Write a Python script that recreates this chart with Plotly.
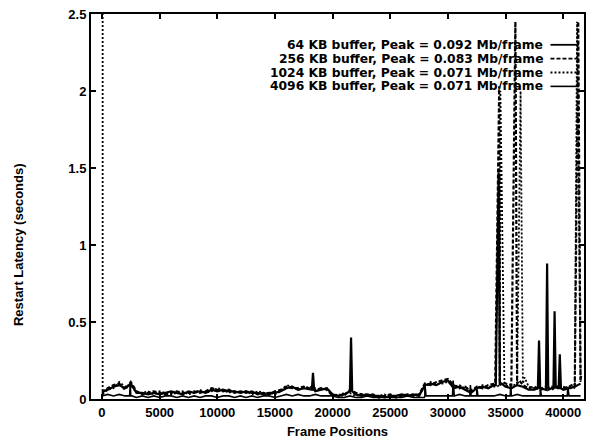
import plotly.graph_objects as go

# Frame positions (common grid)
frames = list(range(0, 42000, 500))

s64_base = [0.05, 0.06, 0.08, 0.09, 0.07, 0.10, 0.04, 0.04, 0.03, 0.04, 0.03, 0.04,
            0.05, 0.04, 0.03, 0.05, 0.04, 0.05, 0.04, 0.06, 0.05, 0.06, 0.05, 0.05,
            0.04, 0.05, 0.04, 0.04, 0.03, 0.04, 0.04, 0.05, 0.07, 0.08, 0.06, 0.07,
            0.06, 0.05, 0.06, 0.07, 0.03, 0.02, 0.03, 0.05, 0.03, 0.02, 0.03, 0.02,
            0.02, 0.01, 0.02, 0.02, 0.03, 0.02, 0.03, 0.02, 0.09, 0.10, 0.09, 0.11,
            0.12, 0.07, 0.08, 0.06, 0.04, 0.07, 0.08, 0.07, 0.09, 0.10, 0.08, 0.07,
            0.09, 0.08, 0.06, 0.06, 0.07, 0.06, 0.07, 0.08, 0.06, 0.07, 0.08, 0.10]
s256_base = [0.04, 0.07, 0.09, 0.10, 0.06, 0.11, 0.05, 0.03, 0.04, 0.05, 0.04, 0.03,
             0.04, 0.05, 0.04, 0.04, 0.05, 0.04, 0.05, 0.07, 0.06, 0.05, 0.06, 0.04,
             0.05, 0.04, 0.05, 0.03, 0.04, 0.03, 0.05, 0.06, 0.08, 0.07, 0.07, 0.08,
             0.07, 0.06, 0.07, 0.06, 0.02, 0.03, 0.02, 0.06, 0.04, 0.03, 0.02, 0.03,
             0.01, 0.02, 0.03, 0.01, 0.02, 0.03, 0.02, 0.03, 0.10, 0.09, 0.11, 0.12,
             0.13, 0.09, 0.07, 0.08, 0.05, 0.08, 0.07, 0.09, 0.10, 0.09, 0.10, 0.09,
             0.10, 0.09, 0.07, 0.08, 0.06, 0.07, 0.08, 0.07, 0.07, 0.08, 0.09, 0.12]
s1024_base = [0.03, 0.06, 0.07, 0.11, 0.08, 0.09, 0.04, 0.04, 0.05, 0.03, 0.05, 0.04,
              0.03, 0.04, 0.05, 0.03, 0.04, 0.06, 0.04, 0.05, 0.07, 0.06, 0.04, 0.05,
              0.04, 0.05, 0.03, 0.05, 0.04, 0.04, 0.03, 0.05, 0.09, 0.08, 0.06, 0.07,
              0.08, 0.07, 0.06, 0.07, 0.03, 0.02, 0.04, 0.04, 0.02, 0.03, 0.03, 0.02,
              0.02, 0.03, 0.01, 0.02, 0.02, 0.02, 0.03, 0.03, 0.08, 0.11, 0.10, 0.10,
              0.11, 0.08, 0.09, 0.07, 0.06, 0.07, 0.09, 0.08, 0.08, 0.09, 0.09, 0.08,
              0.08, 0.10, 0.08, 0.07, 0.07, 0.08, 0.06, 0.08, 0.08, 0.06, 0.07, 0.11]
s4096_base = [0.02, 0.03, 0.02, 0.03, 0.02, 0.02, 0.01, 0.02, 0.01, 0.02, 0.01, 0.02,
              0.02, 0.01, 0.02, 0.01, 0.02, 0.01, 0.02, 0.02, 0.01, 0.02, 0.02, 0.01,
              0.02, 0.01, 0.02, 0.01, 0.02, 0.02, 0.01, 0.02, 0.03, 0.02, 0.03, 0.02,
              0.02, 0.03, 0.02, 0.02, 0.02, 0.01, 0.01, 0.02, 0.01, 0.01, 0.02, 0.01,
              0.01, 0.01, 0.01, 0.01, 0.01, 0.02, 0.01, 0.01, 0.02, 0.02, 0.02, 0.02,
              0.02, 0.02, 0.03, 0.02, 0.02, 0.02, 0.02, 0.02, 0.02, 0.03, 0.02, 0.02,
              0.03, 0.02, 0.02, 0.02, 0.02, 0.02, 0.02, 0.02, 0.02, 0.02, 0.02, 0.02]

# Extra (spike) samples per series (None = break in the line)
s64_sx = [18200, 18300, 18400, 21500, 21600, 21700, 34150, 34400, 34650,
          37800, 37900, 38000, 38500, 38600, 38700, 39150, 39250, 39350, 39600, 39700, 39800]
s64_sy = [0.06, 0.17, 0.06, 0.05, 0.40, 0.05, 0.09, 1.47, 0.10,
          0.07, 0.38, 0.07, 0.06, 0.88, 0.06, 0.07, 0.57, 0.07, 0.07, 0.29, 0.07]
s256_sx = [34100, 34450, 34800, 35500, 35850, 36200, 40950, 41300, 41550]
s256_sy = [0.10, 2.03, 0.11, 0.10, 2.45, 0.12, 0.10, 2.45, 0.15]
s1024_sx = [60, 60, 60, 60, 34200, 34550, 34900, 35950, 36300, 36650, 40850, 41200, 41500]
s1024_sy = [0.03, 3.00, None, 0.03, 0.08, 2.00, 0.10, 0.10, 2.00, 0.14, 0.08, 2.45, 0.20]
s4096_sx = [2400, 2450, 2600, 27950, 28000, 28100, 30400, 30450, 30550, 31900, 31950, 32050,
            32450, 32500, 32600, 35400, 35450, 35550, 37950, 38000, 38100, 40350, 40400, 40500]
s4096_sy = [0.02, 0.10, 0.02, 0.01, 0.10, 0.02, 0.02, 0.12, 0.02, 0.02, 0.09, 0.02,
            0.02, 0.08, 0.02, 0.02, 0.10, 0.02, 0.02, 0.08, 0.02, 0.02, 0.08, 0.02]

x_ticks = [0, 5000, 10000, 15000, 20000, 25000, 30000, 35000, 40000]
x_ticktext = ["0", "5000", "10000", "15000", "20000", "25000", "30000", "35000", "40000"]
y_ticks = [0, 0.5, 1, 1.5, 2, 2.5]
y_ticktext = ["0", "0.5", "1", "1.5", "2", "2.5"]

labels = ["64 KB buffer, Peak = 0.092 Mb/frame",
          "256 KB buffer, Peak = 0.083 Mb/frame",
          "1024 KB buffer, Peak = 0.071 Mb/frame",
          "4096 KB buffer, Peak = 0.071 Mb/frame"]


def merge(bx, by, sx, sy):
    # stable sort on x only, so repeated x values keep their listed order
    pts = sorted(list(zip(bx, by)) + list(zip(sx, sy)), key=lambda p: p[0])
    return [p[0] for p in pts], [p[1] for p in pts]


series = [
    (s64_base, s64_sx, s64_sy, dict(color="black", width=2.2, dash="solid")),
    (s256_base, s256_sx, s256_sy, dict(color="black", width=2.2, dash="4px,2px")),
    (s1024_base, s1024_sx, s1024_sy, dict(color="black", width=1.8, dash="2px,2px")),
    (s4096_base, s4096_sx, s4096_sy, dict(color="black", width=1.6, dash="solid")),
]

fig = go.Figure()
for (base, sx, sy, line), name in zip(series, labels):
    x, y = merge(frames, base, sx, sy)
    fig.add_trace(go.Scatter(x=x, y=y, mode="lines", name=name, line=line,
                             connectgaps=False, showlegend=False, hoverinfo="skip"))

font = dict(family="Liberation Sans, Arial, sans-serif", size=13, color="black", weight="bold")
legend_font = dict(family="DejaVu Sans, sans-serif", size=12.3, color="black", weight="bold")

# custom legend: right-aligned text with sample to its right
row_y = [0.920, 0.884, 0.848, 0.812]
for (base, sx, sy, line), name, ry in zip(series, labels, row_y):
    fig.add_annotation(x=0.918, y=ry, xref="paper", yref="paper", text=name,
                       showarrow=False, xanchor="right", yanchor="middle",
                       borderpad=0, font=legend_font)
    fig.add_shape(type="line", xref="paper", yref="paper", x0=0.932, x1=0.99,
                  y0=ry, y1=ry, line=dict(line, width=min(line["width"], 1.8)))

# y-axis title (placed slightly below centre, as in the reference)
fig.add_annotation(x=-0.148, y=0.40, xref="paper", yref="paper",
                   text="Restart Latency (seconds)", showarrow=False, textangle=-90,
                   font=font, xanchor="center", yanchor="middle")

axis_common = dict(showgrid=False, zeroline=False, showline=True, linecolor="black",
                   linewidth=2, mirror="ticks", ticks="inside", ticklen=5,
                   tickwidth=1.5, tickcolor="black", tickfont=font)

fig.update_layout(
    width=589, height=440,
    margin=dict(l=91, r=3, t=14, b=40),
    paper_bgcolor="white", plot_bgcolor="white",
    font=font,
    xaxis=dict(axis_common, range=[-950, 41800], tickvals=x_ticks, ticktext=x_ticktext,
               title=dict(text="Frame Positions", font=font, standoff=8)),
    yaxis=dict(axis_common, range=[0, 2.5], tickvals=y_ticks, ticktext=y_ticktext),
)

fig.write_html("out.html")
